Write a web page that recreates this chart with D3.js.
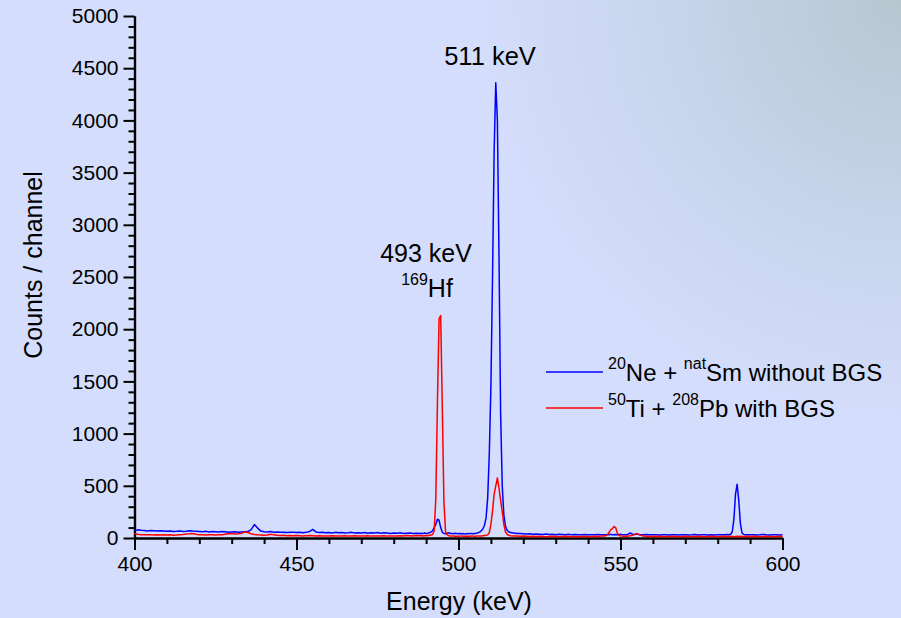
<!DOCTYPE html>
<html>
<head>
<meta charset="utf-8">
<script src="https://cdn.jsdelivr.net/npm/d3@7"></script>
<style>
    html, body { margin: 0; padding: 0; }
    svg text { font-family: "Liberation Sans", Arial, sans-serif; fill: #000; }
</style>
</head>
<body>
<svg id="chart" width="901" height="618"></svg>
<script>

//  Spectrum data (energy in keV, counts per channel)
var energy = [
    400, 401, 402, 403, 404, 405, 406, 407, 408, 409,
    410, 411, 412, 413, 414, 415, 416, 417, 418, 419,
    420, 421, 422, 423, 424, 425, 426, 427, 428, 429,
    430, 431, 432, 433, 434, 435, 436, 437, 438, 439,
    440, 441, 442, 443, 444, 445, 446, 447, 448, 449,
    450, 451, 452, 453, 454, 455, 456, 457, 458, 459,
    460, 461, 462, 463, 464, 465, 466, 467, 468, 469,
    470, 471, 472, 473, 474, 475, 476, 477, 478, 479,
    480, 481, 482, 483, 484, 485, 486, 487,
    488, 488.5, 489, 489.5, 490, 490.5, 491, 491.5, 492, 492.5,
    493, 493.5, 494, 494.5, 495, 495.5, 496, 496.5, 497, 497.5,
    498, 498.5, 499, 499.5, 500, 500.5, 501, 501.5, 502, 502.5,
    503, 503.5, 504, 504.5, 505, 505.5, 506, 506.5, 507, 507.5,
    508, 508.5, 509, 509.5, 510, 510.5, 511, 511.5, 512, 512.5,
    513, 513.5, 514, 514.5, 515, 515.5, 516,
    517, 518, 519, 520, 521, 522, 523, 524, 525, 526,
    527, 528, 529, 530, 531, 532, 533, 534, 535, 536,
    537, 538, 539, 540, 541, 542, 543, 544, 545,
    545.5, 546, 546.5, 547, 547.5, 548, 548.5, 549, 549.5, 550, 550.5, 551,
    552, 553, 554, 555, 556, 557, 558, 559, 560, 561,
    562, 563, 564, 565, 566, 567, 568, 569, 570, 571,
    572, 573, 574, 575, 576, 577, 578, 579, 580, 581,
    582, 583,
    583.5, 584, 584.5, 585, 585.5, 586, 586.5, 587, 587.5, 588, 588.5, 589,
    590, 591, 592, 593, 594, 595, 596, 597, 598, 599, 600
];

//  20Ne + natSm without BGS
var countsNe = [
    70, 78, 74, 72, 68, 72, 70, 66, 70, 68,
    64, 66, 62, 64, 68, 62, 64, 70, 66, 64,
    62, 60, 64, 58, 62, 60, 58, 62, 60, 56,
    58, 60, 56, 58, 60, 62, 80, 128, 95, 66,
    60, 58, 62, 56, 58, 54, 56, 52, 56, 54,
    52, 56, 50, 54, 62, 82, 58, 52, 54, 50,
    52, 48, 54, 50, 52, 48, 50, 54, 48, 50,
    48, 52, 46, 50, 48, 52, 46, 50, 48, 44,
    48, 46, 50, 44, 46, 48, 44, 46,
    44, 46, 42, 48, 44, 46, 50, 56, 70, 100,
    130, 180, 170, 100, 55, 44, 40, 46, 50, 42,
    44, 40, 46, 42, 40, 44, 40, 42, 38, 42,
    40, 44, 42, 40, 44, 46, 50, 56, 68, 86,
    120, 190, 380, 800, 1450, 2500, 3700, 4360, 4000, 2700,
    1200, 500, 220, 115, 75, 60, 52,
    48, 44, 42, 40, 38, 40, 36, 38, 36, 34,
    38, 34, 36, 32, 36, 34, 32, 36, 30, 34,
    32, 30, 34, 32, 30, 32, 34, 30, 32,
    30, 34, 32, 36, 30, 32, 34, 30, 32, 36, 30, 32,
    30, 48, 32, 38, 32, 30, 34, 30, 32, 30,
    28, 32, 30, 28, 32, 30, 28, 32, 30, 28,
    30, 34, 28, 30, 32, 28, 30, 28, 30, 32,
    30, 34,
    32, 36, 60, 180, 420, 515, 360, 140, 50, 34, 30, 32,
    30, 32, 28, 30, 34, 30, 28, 32, 30, 28, 30
];

//  50Ti + 208Pb with BGS
var countsTi = [
    40, 36, 32, 30, 32, 30, 28, 30, 28, 30,
    28, 30, 26, 28, 32, 34, 38, 40, 44, 36,
    32, 30, 28, 32, 30, 28, 30, 32, 36, 40,
    42, 38, 40, 44, 58, 52, 40, 34, 30, 28,
    26, 28, 36, 30, 26, 24, 26, 22, 24, 22,
    24, 22, 20, 22, 24, 22, 20, 22, 20, 18,
    20, 22, 20, 18, 20, 22, 18, 20, 22, 20,
    18, 20, 22, 18, 20, 18, 20, 22, 18, 20,
    18, 20, 22, 20, 24, 22, 20, 24,
    22, 24, 20, 22, 24, 22, 26, 28, 34, 70,
    380, 1300, 2100, 2130, 1250, 350, 60, 30, 22, 20,
    18, 20, 16, 18, 16, 18, 20, 16, 18, 16,
    18, 16, 20, 18, 16, 18, 18, 20, 20, 22,
    24, 26, 30, 50, 130, 260, 420, 500, 575, 480,
    360, 250, 130, 60, 35, 26, 22,
    20, 18, 16, 18, 16, 14, 16, 14, 16, 14,
    12, 14, 16, 14, 12, 14, 16, 14, 12, 14,
    12, 14, 16, 14, 12, 16, 14, 18, 20,
    24, 30, 55, 80, 90, 110, 100, 50, 25, 20, 18, 16,
    16, 22, 30, 42, 30, 18, 16, 14, 16, 14,
    16, 14, 12, 14, 16, 14, 12, 14, 16, 14,
    12, 14, 16, 14, 12, 14, 16, 14, 12, 14,
    16, 14,
    14, 16, 14, 12, 14, 16, 14, 16, 14, 12, 14, 16,
    14, 16, 14, 12, 14, 16, 14, 12, 14, 16, 14
];

var xMajorTicks = [400, 450, 500, 550, 600];
var xMinorTicks = [410, 420, 430, 440, 460, 470, 480, 490, 510, 520, 530, 540, 560, 570, 580, 590];
var yMajorTicks = [0, 500, 1000, 1500, 2000, 2500, 3000, 3500, 4000, 4500, 5000];
var yMinorTicks = d3.range(100, 5000, 100).filter(function(v) { return v % 500 !== 0; });

var svg = d3.select('#chart');

//  Background with a greyish glow in the top right corner
var defs = svg.append('defs');
var glow = defs.append('radialGradient')
    .attr('id', 'bg')
    .attr('gradientUnits', 'userSpaceOnUse')
    .attr('cx', 901).attr('cy', 0).attr('r', 420);
glow.append('stop').attr('offset', '0%').attr('stop-color', '#b7c7d0');
glow.append('stop').attr('offset', '55%').attr('stop-color', '#c8d4ec');
glow.append('stop').attr('offset', '100%').attr('stop-color', '#d4ddfb');

svg.append('rect')
    .attr('width', 901).attr('height', 618)
    .attr('fill', 'url(#bg)');

//  Scales
var x = d3.scaleLinear().domain([400, 600]).range([134.5, 782.5]);
var y = d3.scaleLinear().domain([0, 5000]).range([538, 16]);

//  Axes (major ticks with labels, minor ticks without)
function styleAxis(g) {
    g.select('.domain').attr('stroke', '#000').attr('stroke-width', 2.2);
    g.selectAll('.tick line').attr('stroke', '#000').attr('stroke-width', 2);
    g.selectAll('.tick text')
        .attr('font-family', '"Liberation Sans", Arial, sans-serif')
        .attr('font-size', 21)
        .attr('fill', '#000');
}

svg.append('g')
    .attr('transform', 'translate(0,' + y(0) + ')')
    .call(d3.axisBottom(x).tickValues(xMinorTicks).tickSize(6).tickSizeOuter(0).tickFormat(''))
    .call(styleAxis);

svg.append('g')
    .attr('transform', 'translate(0,' + y(0) + ')')
    .call(d3.axisBottom(x).tickValues(xMajorTicks).tickSize(12).tickSizeOuter(0).tickPadding(6).tickFormat(d3.format('d')))
    .call(styleAxis);

svg.append('g')
    .attr('transform', 'translate(' + x(400) + ',0)')
    .call(d3.axisLeft(y).tickValues(yMinorTicks).tickSize(6).tickSizeOuter(0).tickFormat(''))
    .call(styleAxis);

svg.append('g')
    .attr('transform', 'translate(' + x(400) + ',0)')
    .call(d3.axisLeft(y).tickValues(yMajorTicks).tickSize(11).tickSizeOuter(0).tickPadding(5).tickFormat(d3.format('d')))
    .call(styleAxis);

//  Spectrum lines
var series = [
    { name: 'ne', counts: countsNe, color: '#0000ff' },
    { name: 'ti', counts: countsTi, color: '#ff0000' }
];

var line = d3.line()
    .x(function(d) { return x(d[0]); })
    .y(function(d) { return y(d[1]); });

series.forEach(function(s) {
    svg.append('path')
        .datum(d3.zip(energy, s.counts))
        .attr('class', 'line ' + s.name)
        .attr('fill', 'none')
        .attr('stroke', s.color)
        .attr('stroke-width', 1.5)
        .attr('stroke-linejoin', 'round')
        .attr('d', line);
});

//  Axis titles
svg.append('text')
    .attr('x', 459).attr('y', 610)
    .attr('text-anchor', 'middle')
    .attr('font-size', 25)
    .text('Energy (keV)');

svg.append('text')
    .attr('transform', 'translate(42,265) rotate(-90)')
    .attr('text-anchor', 'middle')
    .attr('font-size', 25)
    .text('Counts / channel');

//  Peak annotations
svg.append('text')
    .attr('x', 490).attr('y', 65)
    .attr('text-anchor', 'middle')
    .attr('font-size', 25.5)
    .text('511 keV');

svg.append('text')
    .attr('x', 426).attr('y', 262)
    .attr('text-anchor', 'middle')
    .attr('font-size', 25)
    .text('493 keV');

var hf = svg.append('text')
    .attr('x', 427).attr('y', 297)
    .attr('text-anchor', 'middle')
    .attr('font-size', 25);
hf.append('tspan').attr('font-size', 16).attr('dy', -12).text('169');
hf.append('tspan').attr('dy', 12).text('Hf');

//  Legend
var legend = [
    { color: '#0000ff', parts: [['20', true], ['Ne + ', false], ['nat', true], ['Sm without BGS', false]] },
    { color: '#ff0000', parts: [['50', true], ['Ti + ', false], ['208', true], ['Pb with BGS', false]] }
];

legend.forEach(function(item, i) {
    var ly = 372 + i * 36;
    svg.append('line')
        .attr('x1', 546).attr('x2', 603)
        .attr('y1', ly).attr('y2', ly)
        .attr('stroke', item.color)
        .attr('stroke-width', 1.4);

    var t = svg.append('text')
        .attr('x', 608).attr('y', ly + 9)
        .attr('font-size', 24);
    var shift = 0;
    item.parts.forEach(function(p) {
        var dy = p[1] ? -12 - shift : -shift;
        shift = p[1] ? -12 : 0;
        t.append('tspan')
            .attr('font-size', p[1] ? 16 : 24)
            .attr('dy', dy)
            .text(p[0]);
    });
});

</script>
</body>
</html>
